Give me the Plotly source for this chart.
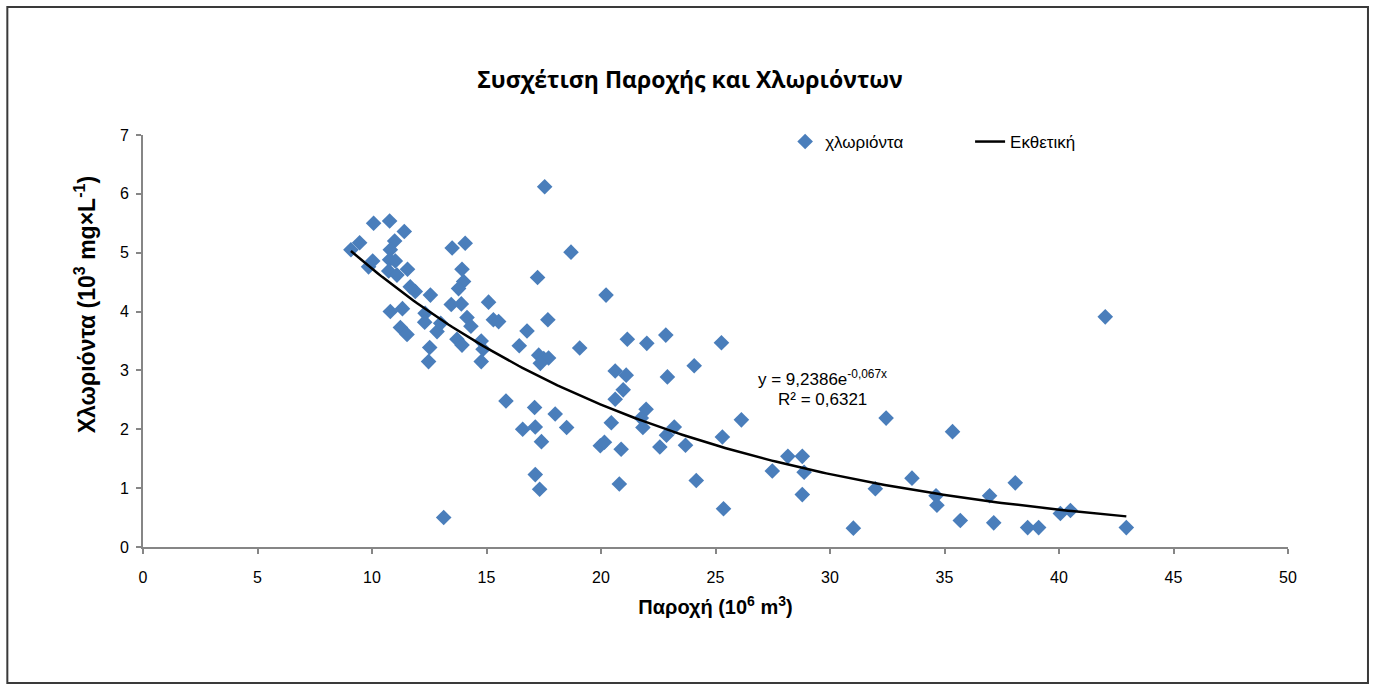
import plotly.graph_objects as go
import numpy as np

# ---- data ----
flow = [9.08, 9.46, 9.85, 10.03, 10.07, 10.77, 11.41, 10.99, 10.80, 10.77,
        11.02, 10.73, 11.09, 11.55, 11.67, 11.89, 12.55, 10.80, 11.33, 11.24,
        11.53, 12.32, 12.30, 12.52, 12.47, 12.84, 13.00, 13.50, 14.07, 13.46,
        13.93, 14.00, 13.78, 13.90, 15.09, 14.15, 14.32, 15.30, 15.53, 13.71,
        13.93, 14.77, 14.85, 14.77, 16.43, 16.77, 17.68, 17.28, 17.50, 17.71,
        17.35, 19.07, 17.54, 18.69, 17.23, 13.13, 15.85, 17.10, 18.00, 16.58,
        17.13, 18.50, 17.40, 17.13, 17.32,
        19.97, 20.15, 20.22, 20.45, 20.62, 21.10, 20.97, 20.62, 20.80, 20.88,
        21.15, 21.97, 21.76, 21.83, 22.00, 22.57, 22.83, 22.90, 22.86, 23.20,
        23.69, 24.07, 24.16, 25.26, 25.30, 25.35, 26.13, 27.48, 28.16, 28.79,
        28.87, 28.79, 32.45, 35.35, 31.02, 31.98, 33.58, 34.63, 34.67, 35.69,
        36.97, 37.15, 38.09, 38.63, 39.11, 40.06, 40.50, 42.02, 42.94]
chloride = [5.05, 5.17, 4.76, 4.86, 5.50, 5.54, 5.36, 5.20, 5.05, 4.88,
            4.86, 4.69, 4.62, 4.72, 4.42, 4.34, 4.28, 4.00, 4.05, 3.73,
            3.61, 3.97, 3.82, 3.39, 3.15, 3.66, 3.80, 5.08, 5.16, 4.12,
            4.72, 4.51, 4.39, 4.13, 4.16, 3.90, 3.75, 3.86, 3.83, 3.53,
            3.43, 3.50, 3.36, 3.15, 3.42, 3.67, 3.86, 3.26, 3.20, 3.21,
            3.12, 3.38, 6.12, 5.01, 4.58, 0.50, 2.48, 2.37, 2.26, 2.00,
            2.04, 2.03, 1.79, 1.23, 0.98,
            1.72, 1.78, 4.28, 2.11, 2.99, 2.92, 2.67, 2.51, 1.07, 1.66,
            3.53, 2.34, 2.19, 2.03, 3.46, 1.70, 3.60, 2.89, 1.90, 2.04,
            1.73, 3.08, 1.13, 3.47, 1.87, 0.65, 2.16, 1.29, 1.54, 1.54,
            1.27, 0.89, 2.19, 1.96, 0.32, 0.99, 1.17, 0.87, 0.71, 0.45,
            0.87, 0.41, 1.09, 0.33, 0.33, 0.57, 0.62, 3.91, 0.33]

# exponential trendline shown in the chart: y = a*e^(b*x)
trend_a = 9.2386
trend_b = -0.067
x_ticks = [0, 5, 10, 15, 20, 25, 30, 35, 40, 45, 50]
y_ticks = [0, 1, 2, 3, 4, 5, 6, 7]

tx = np.linspace(min(flow), max(flow), 200)
ty = trend_a * np.exp(trend_b * tx)

W, H = 1373, 684
L, R, T, B = 142.7, 1373 - 1288.0, 135.0, 684 - 547.0
pw, ph = W - L - R, H - T - B

def px2x(p):
    return (p - L) / pw

def py2y(p):
    return (H - B - p) / ph

FONT = "Liberation Sans, Arial, sans-serif"

fig = go.Figure()
fig.add_trace(go.Scatter(
    x=flow, y=chloride, mode="markers", name="χλωριόντα",
    marker=dict(symbol="diamond", size=12, color="#4A7EBB",
                line=dict(width=0)),
    legend="legend"))
fig.add_trace(go.Scatter(
    x=tx, y=ty, mode="lines", name="Εκθετική",
    line=dict(color="black", width=2.5), legend="legend2"))

axis_common = dict(showgrid=False, zeroline=False, showline=True,
                   linecolor="#868686", linewidth=2, ticks="outside",
                   ticklen=5, tickwidth=2, tickcolor="#868686",
                   tickfont=dict(family=FONT, size=16, color="black"))

fig.update_layout(
    width=W, height=H,
    margin=dict(l=L, r=R, t=T, b=B),
    paper_bgcolor="white", plot_bgcolor="white",
    title=dict(text="<b>Συσχέτιση Παροχής και Χλωριόντων</b>",
               font=dict(family="Open Sans, Noto Sans, sans-serif", size=23, color="black"),
               x=690 / W, xref="container", xanchor="center",
               y=1 - 80 / H, yref="container", yanchor="middle"),
    xaxis=dict(range=[0, 50], tickvals=x_ticks, ticklabelstandoff=10,
               title=dict(text="<b>Παροχή (10<sup>6</sup> m<sup>3</sup>)</b>",
                          font=dict(family=FONT, size=20, color="black"),
                          standoff=15),
               **axis_common),
    yaxis=dict(range=[0, 7], tickvals=y_ticks, ticklabelstandoff=4,
               **axis_common),
    legend=dict(x=px2x(785), y=py2y(142), xanchor="left", yanchor="middle",
                orientation="h", bgcolor="rgba(0,0,0,0)",
                font=dict(family=FONT, size=17, color="black")),
    legend2=dict(x=px2x(970), y=py2y(142), xanchor="left", yanchor="middle",
                 orientation="h", bgcolor="rgba(0,0,0,0)",
                 font=dict(family=FONT, size=17, color="black")),
    showlegend=True,
)

# y-axis title (placed as rotated text, as in the reference)
fig.add_annotation(
    x=px2x(85), y=py2y(305), xref="paper", yref="paper",
    text="<b>Χλωριόντα (10<sup>3</sup> mg×L<sup>-1</sup>)</b>", showarrow=False,
    textangle=-90, font=dict(family=FONT, size=23, color="black"),
    xanchor="center", yanchor="middle")

fig.add_annotation(
    x=px2x(822), y=py2y(378), xref="paper", yref="paper",
    text="y = 9,2386e<sup>-0,067x</sup>", showarrow=False,
    font=dict(family=FONT, size=17, color="black"),
    xanchor="center", yanchor="middle")
fig.add_annotation(
    x=px2x(822), y=py2y(399), xref="paper", yref="paper",
    text="R² = 0,6321", showarrow=False,
    font=dict(family=FONT, size=17, color="black"),
    xanchor="center", yanchor="middle")

# outer chart-area border
fig.add_shape(type="rect", xref="paper", yref="paper",
              x0=px2x(7), x1=px2x(1368), y0=py2y(683), y1=py2y(7),
              line=dict(color="#3a3a3a", width=2), fillcolor="rgba(0,0,0,0)",
              layer="below")

fig.write_html("out.html")
